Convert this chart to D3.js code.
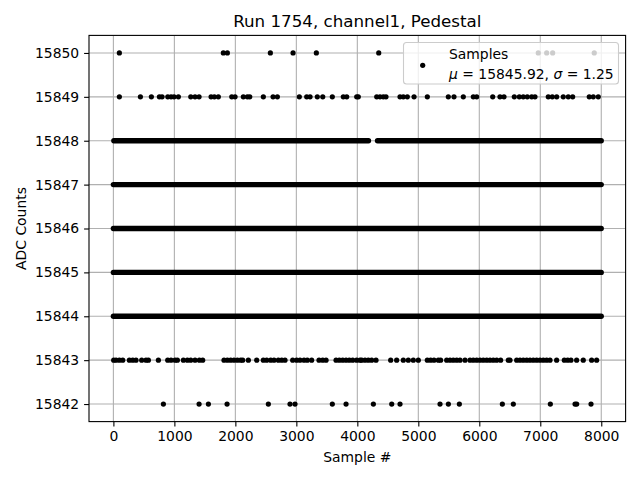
<!DOCTYPE html>
<html>
<head>
<meta charset="utf-8">
<script src="https://cdn.jsdelivr.net/npm/d3@7"></script>
<style>
  body { margin: 0; background: #fff; }
  svg { font-family: "DejaVu Sans", sans-serif; }
</style>
</head>
<body>
<div id="main"></div>
<script>
// tick values
var xTicks = [0, 1000, 2000, 3000, 4000, 5000, 6000, 7000, 8000];
var yTicks = [15842, 15843, 15844, 15845, 15846, 15847, 15848, 15849, 15850];

// rows that are so dense they read as solid runs: [level, first sample, last sample]
var denseRuns = [
  [15844, 0, 7999],
  [15845, 0, 7999],
  [15846, 0, 7999],
  [15847, 0, 7999],
  [15848, 8, 4183],
  [15848, 4331, 7999]
];

// sample numbers of the scattered points on the outer rows
var samples15850 = [98, 1803, 1869, 2574, 2946, 3328, 4351, 6967, 7105, 7203, 7885];
var samples15849 = [98, 443, 623, 754, 798, 892, 946, 995, 1066, 1269, 1339, 1405, 1602, 1656, 1721,
  1941, 1995, 2131, 2197, 2236, 2459, 2618, 2689, 3049, 3170, 3225, 3344, 3433, 3590, 3770, 3826,
  3990, 4016, 4318, 4372, 4426, 4470, 4700, 4754, 4820, 4930, 5148, 5492, 5585, 5738, 5902, 5957,
  6220, 6339, 6405, 6574, 6656, 6721, 6787, 6859, 6913, 7131, 7197, 7269, 7377, 7459, 7531, 7803,
  7869, 7951];
var samples15843 = [5, 44, 98, 153, 262, 317, 371, 464, 535, 574, 738, 891, 945, 1011, 1049, 1148,
  1213, 1268, 1339, 1410, 1464, 1814, 1869, 1923, 1978, 2033, 2087, 2120, 2213, 2350, 2459, 2514,
  2579, 2634, 2705, 2760, 2814, 2940, 3005, 3060, 3126, 3180, 3251, 3372, 3432, 3487, 3651, 3705,
  3760, 3815, 3869, 3924, 3989, 4044, 4071, 4126, 4180, 4235, 4306, 4547, 4645, 4754, 4836, 4918,
  5000, 5148, 5202, 5257, 5328, 5366, 5465, 5520, 5574, 5629, 5684, 5766, 5848, 5902, 5957, 6012,
  6066, 6121, 6175, 6230, 6285, 6350, 6476, 6503, 6613, 6667, 6722, 6777, 6831, 6886, 6940, 6995,
  7050, 7104, 7159, 7268, 7394, 7449, 7503, 7596, 7705, 7842, 7924];
var samples15842 = [820, 1405, 1558, 1864, 2541, 2896, 2978, 3590, 3815, 4263, 4564, 4700, 5356,
  5493, 5673, 6378, 6558, 7165, 7570, 7597, 7832];

var meanText = "15845.92";
var sigmaText = "1.25";

var sparse = [];
[[15850, samples15850], [15849, samples15849], [15843, samples15843], [15842, samples15842]].forEach(function(r) {
  r[1].forEach(function(s) { sparse.push({ x: s, y: r[0] }); });
});

var W = 640, H = 480;
var plotL = 89, plotR = 625.6, plotT = 35.4, plotB = 421.6;

var canvas = d3.select("#main").append("svg")
  .attr("width", W)
  .attr("height", H);

var xScale = d3.scaleLinear().domain([-400, 8399]).range([plotL, plotR]);
var yScale = d3.scaleLinear().domain([15841.6, 15850.4]).range([plotB, plotT]);

// grid
canvas.append("g").selectAll("line").data(xTicks).enter().append("line")
  .attr("x1", function(d) { return xScale(d); })
  .attr("x2", function(d) { return xScale(d); })
  .attr("y1", plotT).attr("y2", plotB)
  .attr("stroke", "#b0b0b0").attr("stroke-width", 1.1);
canvas.append("g").selectAll("line").data(yTicks).enter().append("line")
  .attr("y1", function(d) { return yScale(d); })
  .attr("y2", function(d) { return yScale(d); })
  .attr("x1", plotL).attr("x2", plotR)
  .attr("stroke", "#b0b0b0").attr("stroke-width", 1.1);

// dense rows
canvas.append("g").selectAll("line").data(denseRuns).enter().append("line")
  .attr("x1", function(d) { return xScale(d[1]); })
  .attr("x2", function(d) { return xScale(d[2]); })
  .attr("y1", function(d) { return yScale(d[0]); })
  .attr("y2", function(d) { return yScale(d[0]); })
  .attr("stroke", "#000")
  .attr("stroke-width", 5.4)
  .attr("stroke-linecap", "round");

// scattered points
canvas.append("g").selectAll("circle").data(sparse).enter().append("circle")
  .attr("cx", function(d) { return xScale(d.x); })
  .attr("cy", function(d) { return yScale(d.y); })
  .attr("r", 2.6)
  .attr("fill", "#000");

// axes
var xAxis = d3.axisBottom(xScale).tickValues(xTicks).tickFormat(d3.format("d"))
  .tickSizeOuter(0).tickSizeInner(4.9).tickPadding(4.9);
var gx = canvas.append("g").attr("transform", "translate(0," + plotB + ")").call(xAxis);
var yAxis = d3.axisLeft(yScale).tickValues(yTicks).tickFormat(d3.format("d"))
  .tickSizeOuter(0).tickSizeInner(4.9).tickPadding(4.9);
var gy = canvas.append("g").attr("transform", "translate(" + plotL + ",0)").call(yAxis);
[gx, gy].forEach(function(g) {
  g.select(".domain").remove();
  g.selectAll("line").attr("stroke", "#000").attr("stroke-width", 1.1);
  g.selectAll("text").attr("font-size", "13.9px").attr("font-family", "DejaVu Sans").attr("fill", "#000");
});

// frame
canvas.append("rect")
  .attr("x", plotL).attr("y", plotT)
  .attr("width", plotR - plotL).attr("height", plotB - plotT)
  .attr("fill", "none").attr("stroke", "#000").attr("stroke-width", 1.1);

// title and labels
canvas.append("text")
  .attr("x", (plotL + plotR) / 2).attr("y", 27)
  .attr("text-anchor", "middle").attr("font-size", "16.7px")
  .text("Run 1754, channel1, Pedestal");
canvas.append("text")
  .attr("x", (plotL + plotR) / 2).attr("y", 462)
  .attr("text-anchor", "middle").attr("font-size", "13.9px")
  .text("Sample #");
canvas.append("text")
  .attr("transform", "translate(26," + ((plotT + plotB) / 2) + ") rotate(-90)")
  .attr("text-anchor", "middle").attr("font-size", "13.9px")
  .text("ADC Counts");

// legend
var legend = canvas.append("g");
legend.append("rect")
  .attr("x", 403.5).attr("y", 42.5).attr("width", 215).attr("height", 41.5)
  .attr("rx", 3).attr("ry", 3)
  .attr("fill", "#fff").attr("fill-opacity", 0.8)
  .attr("stroke", "#cccccc").attr("stroke-width", 1.1);
legend.append("circle")
  .attr("cx", 422.7).attr("cy", 65.3).attr("r", 2.6).attr("fill", "#000");
legend.append("text")
  .attr("x", 449).attr("y", 58.5).attr("font-size", "13.9px")
  .text("Samples");
var t2 = legend.append("text")
  .attr("x", 449).attr("y", 78.5).attr("font-size", "13.9px");
t2.append("tspan").attr("font-style", "italic").text("\u03bc");
t2.append("tspan").text(" = " + meanText + ", ");
t2.append("tspan").attr("font-style", "italic").text("\u03c3");
t2.append("tspan").text(" = " + sigmaText);
</script>
</body>
</html>
